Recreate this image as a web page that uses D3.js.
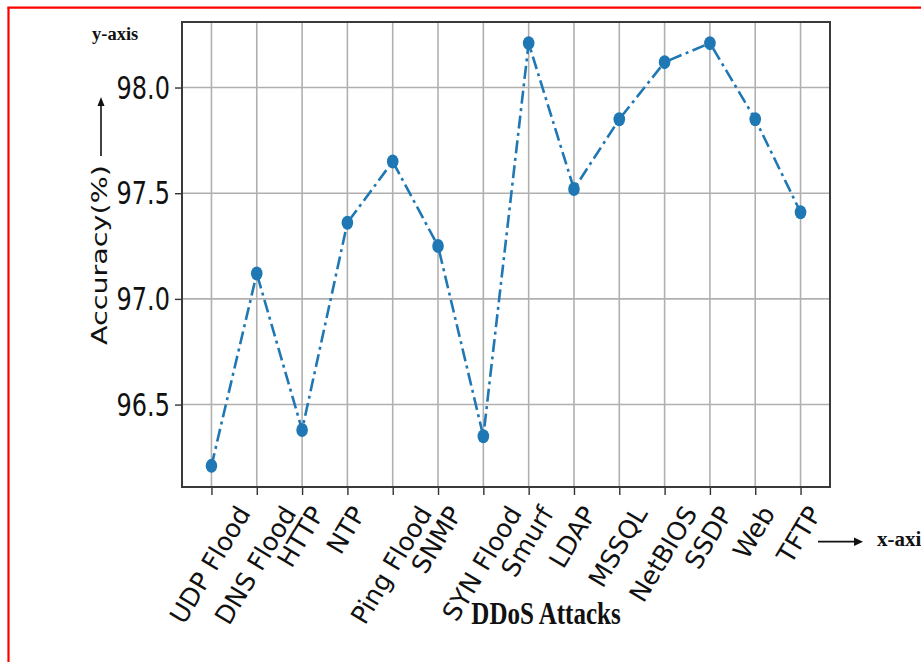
<!DOCTYPE html>
<html>
<head>
<meta charset="utf-8">
<script src="https://cdn.jsdelivr.net/npm/d3@7"></script>
<style>
  html, body { margin: 0; padding: 0; background: #fff; }
  svg { display: block; }
</style>
</head>
<body>
<svg id="chart" width="921" height="662"></svg>
<script>
// Accuracy of the detector for each DDoS attack type
const attacks = ["UDP Flood", "DNS Flood", "HTTP", "NTP", "Ping Flood", "SNMP",
  "SYN Flood", "Smurf", "LDAP", "MSSQL", "NetBIOS", "SSDP", "Web", "TFTP"];
const accuracy = [96.21, 97.12, 96.38, 97.36, 97.65, 97.25,
  96.35, 98.21, 97.52, 97.85, 98.12, 98.21, 97.85, 97.41];
const yTicks = [96.5, 97.0, 97.5, 98.0];

const W = 921, H = 662;
const plot = { left: 182, right: 830, top: 22, bottom: 487 };
const stretch = 1.3;        // vertical stretch applied to horizontal glyphs

const svg = d3.select("#chart");

// page frame
svg.append("line").attr("x1", 8.5).attr("x2", 8.5).attr("y1", 7.5).attr("y2", H)
  .attr("stroke", "#ff0000").attr("stroke-width", 2.2);
svg.append("line").attr("x1", 7.4).attr("x2", W).attr("y1", 7.7).attr("y2", 7.7)
  .attr("stroke", "#ff0000").attr("stroke-width", 2.2);

// scales (5% autoscale margin like matplotlib)
const [lo, hi] = d3.extent(accuracy);
const pad = (hi - lo) * 0.05;
const y = d3.scaleLinear().domain([lo - pad, hi + pad]).range([plot.bottom, plot.top]);
const x = d3.scalePoint().domain(attacks).range([plot.left, plot.right]).padding(0.65);

// grid
const grid = svg.append("g").attr("class", "grid");
grid.selectAll("line.v").data(attacks).join("line")
  .attr("x1", d => x(d)).attr("x2", d => x(d))
  .attr("y1", plot.top).attr("y2", plot.bottom)
  .attr("stroke", "#b0b0b0").attr("stroke-width", 1.6);
grid.selectAll("line.h").data(yTicks).join("line")
  .attr("x1", plot.left).attr("x2", plot.right)
  .attr("y1", d => y(d)).attr("y2", d => y(d))
  .attr("stroke", "#b0b0b0").attr("stroke-width", 1.6);

// y axis
const yAxis = svg.append("g")
  .attr("transform", `translate(${plot.left},0)`)
  .call(d3.axisLeft(y).tickValues(yTicks).tickFormat(d3.format(".1f")).tickSize(7).tickPadding(5));
yAxis.select(".domain").remove();
yAxis.selectAll(".tick line").attr("stroke", "#333").attr("stroke-width", 1.4);
yAxis.selectAll(".tick text")
  .attr("font-family", "DejaVu Sans").attr("font-size", 24).attr("fill", "#111")
  .attr("dy", null).attr("dominant-baseline", "central")
  .attr("transform", `scale(1,${stretch})`);

// x axis
const xAxis = svg.append("g")
  .attr("transform", `translate(0,${plot.bottom})`)
  .call(d3.axisBottom(x).tickSize(8).tickFormat(""));
xAxis.select(".domain").remove();
xAxis.selectAll(".tick line").attr("stroke", "#333").attr("stroke-width", 1.4);

// rotated category labels: rotated box centred under the tick, top edge fixed
const labelTop = 502;
const xFont = 25.5;
const angle = 59;
const rad = angle * Math.PI / 180;
attacks.forEach(a => {
  const g = svg.append("g").attr("transform", `translate(${x(a) - 1.5},0)`);
  const t = g.append("text")
    .attr("font-family", "DejaVu Sans").attr("font-size", xFont).attr("fill", "#111")
    .attr("text-anchor", "middle").attr("dominant-baseline", "central")
    .text(a);
  const L = t.node().getComputedTextLength();
  const h = xFont * 1.0;
  const boxH = L * Math.sin(rad) + h * Math.cos(rad);
  t.attr("transform", `translate(0,${labelTop + boxH / 2}) rotate(${-angle})`);
});

// spines
svg.append("rect")
  .attr("x", plot.left).attr("y", plot.top)
  .attr("width", plot.right - plot.left).attr("height", plot.bottom - plot.top)
  .attr("fill", "none").attr("stroke", "#3a3a3a").attr("stroke-width", 2);

// series
const line = d3.line().x((d, i) => x(attacks[i])).y(d => y(d));
svg.append("path").datum(accuracy)
  .attr("d", line)
  .attr("fill", "none").attr("stroke", "#1f77b4").attr("stroke-width", 2.6)
  .attr("stroke-dasharray", "13,4.5,3,4.5");
svg.selectAll("ellipse.pt").data(accuracy).join("ellipse")
  .attr("class", "pt")
  .attr("cx", (d, i) => x(attacks[i])).attr("cy", d => y(d))
  .attr("rx", 5.8).attr("ry", 7)
  .attr("fill", "#1f77b4");

// y label with arrow
svg.append("text")
  .attr("font-family", "DejaVu Sans").attr("font-size", 22).attr("fill", "#111")
  .attr("transform", `translate(106.7,345) scale(1,${stretch}) rotate(-90)`)
  .text("Accuracy(%)");
svg.append("line").attr("x1", 101).attr("x2", 101).attr("y1", 156).attr("y2", 103)
  .attr("stroke", "#111").attr("stroke-width", 1.6);
svg.append("path").attr("d", "M101,97 L97.5,106 L104.5,106 Z").attr("fill", "#111");

// x label
svg.append("text")
  .attr("font-family", "Liberation Serif").attr("font-weight", "bold")
  .attr("font-size", 25).attr("fill", "#111").attr("text-anchor", "middle")
  .attr("transform", `translate(546,624) scale(1,1.27)`)
  .text("DDoS Attacks");

// axis annotations
svg.append("text")
  .attr("font-family", "Liberation Serif").attr("font-weight", "bold")
  .attr("font-size", 18.5).attr("fill", "#111")
  .attr("x", 92).attr("y", 39.5).text("y-axis");
svg.append("line").attr("x1", 818).attr("x2", 856).attr("y1", 541.7).attr("y2", 541.7)
  .attr("stroke", "#111").attr("stroke-width", 1.8);
svg.append("path").attr("d", "M863,541.7 L854,537.5 L854,546 Z").attr("fill", "#111");
svg.append("text")
  .attr("font-family", "Liberation Serif").attr("font-weight", "bold")
  .attr("font-size", 21).attr("fill", "#111")
  .attr("x", 877).attr("y", 545.5).text("x-axis");
</script>
</body>
</html>
